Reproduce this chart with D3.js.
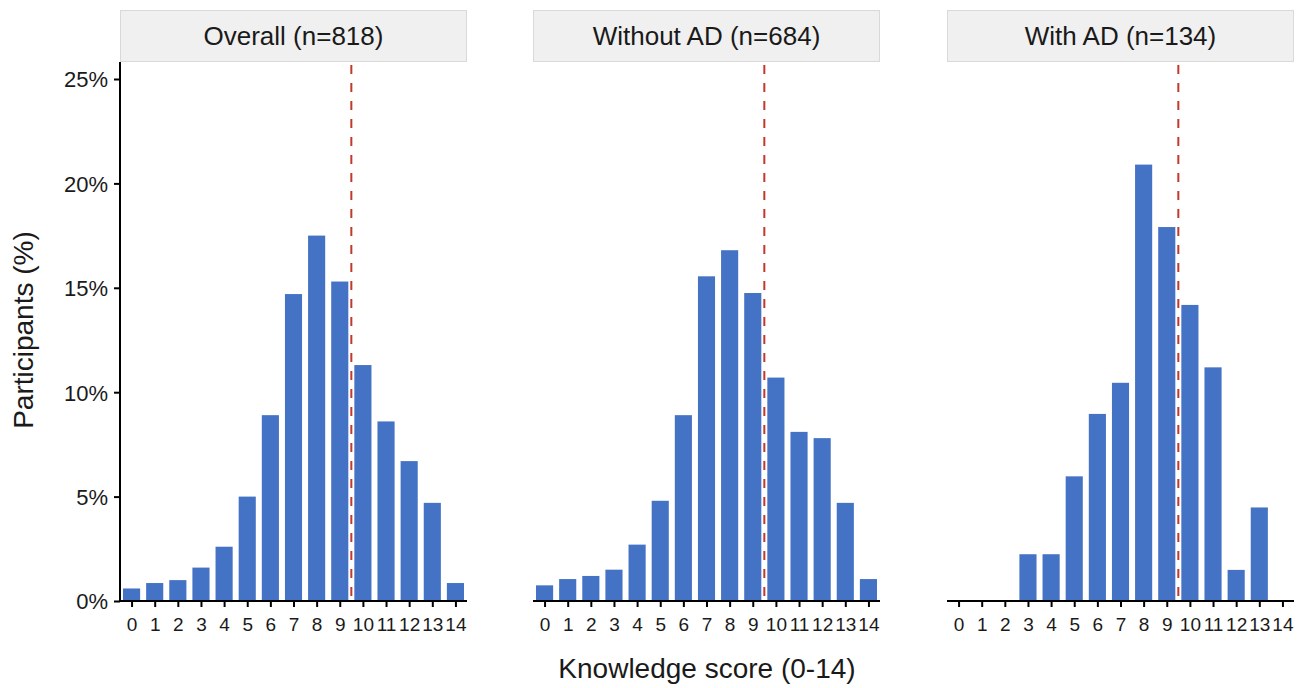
<!DOCTYPE html>
<html>
<head>
<meta charset="utf-8">
<style>
  body { margin: 0; background: #fff; }
  svg text { font-family: "Liberation Sans", Arial, sans-serif; fill: #1a1a1a; }
</style>
</head>
<body>
<svg width="1299" height="688"></svg>
<script src="https://d3js.org/d3.v7.min.js"></script>
<script>

// scores 0..14
var scores = d3.range(0, 15);

var panelTitles = ["Overall (n=818)", "Without AD (n=684)", "With AD (n=134)"];

// percent of participants at each score
var overall   = [0.6, 0.86, 1.0, 1.6, 2.6, 5.0, 8.9, 14.7, 17.5, 15.3, 11.3, 8.6, 6.7, 4.7, 0.86];
var withoutAD = [0.75, 1.05, 1.2, 1.5, 2.7, 4.8, 8.9, 15.55, 16.8, 14.75, 10.7, 8.1, 7.8, 4.7, 1.05];
var withAD    = [0, 0, 0, 2.24, 2.24, 5.97, 8.96, 10.45, 20.9, 17.91, 14.18, 11.19, 1.49, 4.48, 0];

var yTicks = [0, 5, 10, 15, 20, 25];
var meanScore = 9.5;

var series = [overall, withoutAD, withAD];

var svg = d3.select("svg");

var panelLeft = [120, 533, 947],
    panelWidth = 347,
    plotTop = 62,
    plotBottom = 601;

var y = d3.scaleLinear()
    .domain([0, 25])
    .range([plotBottom, 79]);

series.forEach(function(values, i) {
  var x = d3.scaleLinear()
      .domain([-0.5, 14.5])
      .range([panelLeft[i], panelLeft[i] + panelWidth]);
  var bw = (x(1) - x(0)) * 0.74;

  var g = svg.append("g");

  // strip
  g.append("rect")
      .attr("x", panelLeft[i] + 0.5)
      .attr("y", 10.5)
      .attr("width", panelWidth - 1)
      .attr("height", 51)
      .attr("fill", "#f0f0f0")
      .attr("stroke", "#d9d9d9")
      .attr("stroke-width", 1);
  g.append("text")
      .attr("x", panelLeft[i] + panelWidth / 2)
      .attr("y", 45)
      .attr("text-anchor", "middle")
      .attr("font-size", 26)
      .text(panelTitles[i]);

  // bars
  g.selectAll("rect.bar")
    .data(scores)
    .enter().append("rect")
      .attr("class", "bar")
      .attr("x", function(d) { return x(d) - bw / 2; })
      .attr("y", function(d) { return y(values[d]); })
      .attr("width", bw)
      .attr("height", function(d) { return plotBottom - y(values[d]); })
      .attr("fill", "#4472C4");

  // mean line
  g.append("line")
      .attr("x1", x(meanScore))
      .attr("x2", x(meanScore))
      .attr("y1", plotTop + 3)
      .attr("y2", plotBottom)
      .attr("stroke", "#c0392b")
      .attr("stroke-width", 2)
      .attr("stroke-dasharray", "9,9");

  // x axis
  var xa = g.append("g")
      .attr("transform", "translate(0," + plotBottom + ")")
      .call(d3.axisBottom(x).tickValues(scores).tickFormat(d3.format("d")).tickSize(6).tickSizeOuter(0));
  xa.select(".domain").attr("stroke", "#000").attr("stroke-width", 2)
      .attr("d", "M" + panelLeft[i] + ",0H" + (panelLeft[i] + panelWidth));
  xa.selectAll(".tick line").attr("stroke", "#000").attr("stroke-width", 2);
  xa.selectAll(".tick text").attr("font-size", 19).attr("y", 30).attr("dy", 0).attr("fill", "#1a1a1a");

  if (i === 0) {
    var ya = g.append("g")
        .attr("transform", "translate(" + panelLeft[i] + ",0)")
        .call(d3.axisLeft(y).tickValues(yTicks).tickFormat(function(d) { return d + "%"; }).tickSize(6).tickSizeOuter(0));
    ya.select(".domain").attr("stroke", "#000").attr("stroke-width", 2)
        .attr("d", "M0," + plotTop + "V" + plotBottom);
    ya.selectAll(".tick line").attr("stroke", "#000").attr("stroke-width", 2);
    ya.selectAll(".tick text").attr("font-size", 22).attr("x", -12).attr("dy", "0.36em").attr("fill", "#1a1a1a");
  }
});

svg.append("text")
    .attr("x", 707)
    .attr("y", 678)
    .attr("text-anchor", "middle")
    .attr("font-size", 28)
    .text("Knowledge score (0-14)");

svg.append("text")
    .attr("transform", "translate(33,330) rotate(-90)")
    .attr("text-anchor", "middle")
    .attr("font-size", 28)
    .text("Participants (%)");

</script>
</body>
</html>
